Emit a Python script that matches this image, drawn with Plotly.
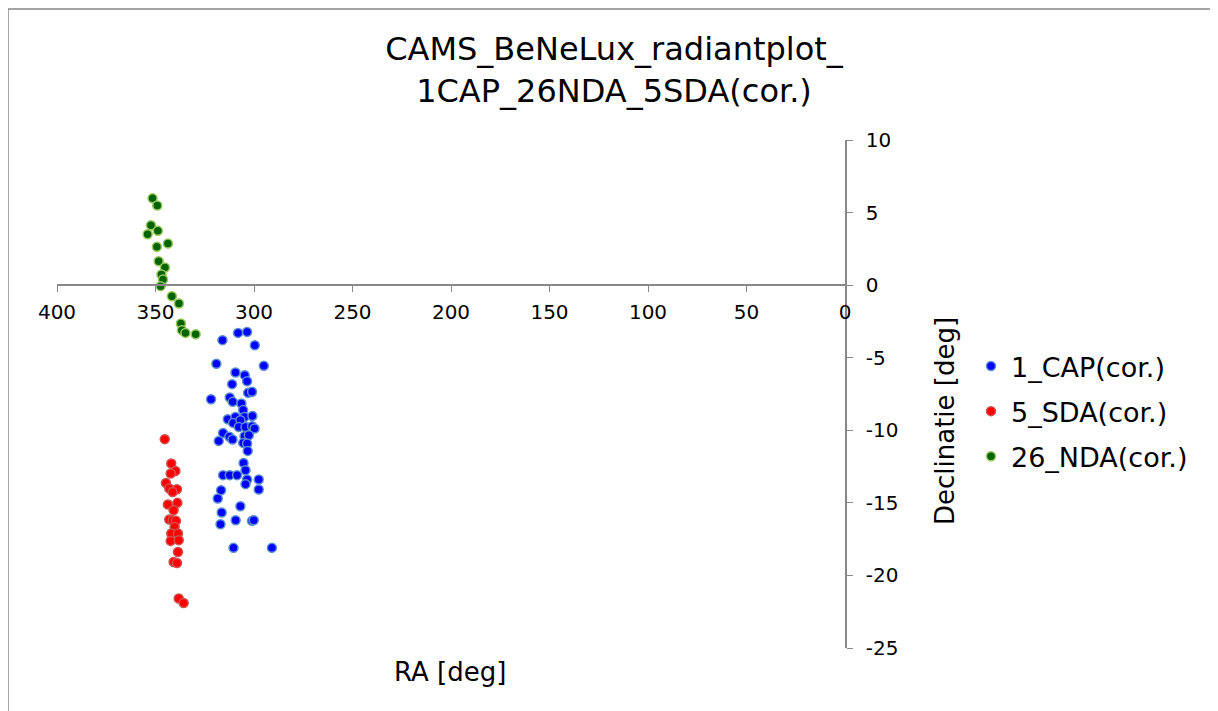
import plotly.graph_objects as go

# ---- Data (RA [deg], Declination [deg]) ----
cap_ra = [308.1, 303.5, 316.0, 299.6, 319.1, 295.0, 309.4, 304.7, 311.1, 303.5,
          321.8, 303.0, 301.0, 312.3, 310.8, 306.4, 305.5, 313.3, 309.4, 304.8,
          300.8, 310.6, 306.9, 307.7, 304.3, 301.0, 299.7, 315.7, 312.5, 304.8,
          302.6, 310.9, 317.9, 305.5, 303.5, 303.2, 305.3, 304.3, 315.7, 312.3,
          308.6, 303.5, 297.6, 304.3, 316.7, 297.6, 318.4, 306.9, 316.4, 309.3,
          317.0, 301.0, 300.1, 310.4, 290.9]
cap_dec = [-3.29, -3.22, -3.79, -4.14, -5.42, -5.56, -6.02, -6.20, -6.82, -6.62,
           -7.86, -7.42, -7.35, -7.74, -8.04, -8.15, -8.61, -9.24, -9.08, -9.08,
           -9.01, -9.49, -9.30, -9.77, -9.77, -9.72, -9.88, -10.18, -10.45, -10.41,
           -10.34, -10.63, -10.73, -10.87, -10.91, -11.42, -12.25, -12.75, -13.09, -13.09,
           -13.09, -13.39, -13.39, -13.71, -14.13, -14.08, -14.70, -15.23, -15.67, -16.20,
           -16.47, -16.24, -16.20, -18.10, -18.10]

sda_ra = [345.3, 342.0, 339.9, 342.3, 344.7, 343.0, 339.1, 341.3, 343.7, 338.9,
          340.8, 343.0, 341.3, 339.6, 340.3, 342.0, 338.6, 342.3, 338.2, 338.6,
          340.8, 339.1, 338.2, 335.7]
sda_dec = [-10.61, -12.29, -12.80, -12.98, -13.63, -14.01, -14.06, -14.25, -15.11, -15.00,
           -15.51, -16.15, -16.20, -16.24, -16.66, -17.11, -17.11, -17.62, -17.57, -18.38,
           -19.07, -19.14, -21.59, -21.90]

nda_ra = [351.5, 349.1, 352.3, 354.0, 348.8, 349.3, 343.7, 348.4, 345.2, 347.0,
          346.2, 347.4, 341.7, 338.1, 337.1, 336.6, 334.8, 329.6]
nda_dec = [5.98, 5.49, 4.13, 3.51, 3.74, 2.64, 2.87, 1.65, 1.22, 0.74,
           0.39, -0.07, -0.76, -1.26, -2.64, -3.10, -3.29, -3.38]

series_names = ["1_CAP(cor.)", "5_SDA(cor.)", "26_NDA(cor.)"]
x_ticks = [400, 350, 300, 250, 200, 150, 100, 50, 0]
y_ticks = [10, 5, 0, -5, -10, -15, -20, -25]

FONT = "DejaVu Sans"
OFF = 8                      # page body margin in the browser
W, H = 1218 - OFF, 711 - OFF
# plot area in screenshot pixels
PX_L, PX_R, PX_T, PX_B = 57, 845, 140, 648
L, T = PX_L - OFF, PX_T - OFF
PW, PH = PX_R - PX_L, PX_B - PX_T
R, B = W - L - PW, H - T - PH


def px(sx):   # screenshot x -> paper x
    return (sx - PX_L) / PW


def py(sy):   # screenshot y -> paper y
    return (PX_B - sy) / PH


fig = go.Figure()
styles = [("#0000FF", "#5B8FD0"), ("#FF0000", "#D05050"), ("#006400", "#9BC85A")]
data = [(cap_ra, cap_dec), (sda_ra, sda_dec), (nda_ra, nda_dec)]
for i, ((xs, ys), name, (fill, edge)) in enumerate(zip(data, series_names, styles)):
    fig.add_trace(go.Scatter(
        x=xs, y=ys, mode="markers", name=name, legendgroup=str(i),
        marker=dict(size=9, color=fill, line=dict(color=edge, width=1.5)),
    ))

ymin, ymax = -25, 10
fig.update_layout(
    width=W, height=H,
    margin=dict(l=L, r=R, t=T, b=B, pad=0),
    paper_bgcolor="white", plot_bgcolor="white",
    font=dict(family=FONT, color="black"),
    title=dict(text="CAMS_BeNeLux_radiantplot_<br>1CAP_26NDA_5SDA(cor.)",
               x=(614 - OFF) / W, xanchor="center", y=1 - (60 - OFF) / H, yanchor="middle",
               font=dict(size=32, family=FONT, color="black")),
    xaxis=dict(range=[400, 0], tickvals=x_ticks, ticktext=[str(v) for v in x_ticks],
               showgrid=False, zeroline=False, showline=True, linecolor="#888888",
               linewidth=1.5, ticks="outside", ticklen=6, tickcolor="#888888",
               ticklabelstandoff=3,
               tickfont=dict(size=20, family=FONT, color="black"),
               anchor="free", position=(0 - ymin) / (ymax - ymin)),
    yaxis=dict(range=[ymin, ymax], tickvals=y_ticks, ticktext=[str(v) for v in y_ticks],
               side="right", showgrid=False, zeroline=False, showline=True,
               linecolor="#888888", linewidth=1.5, ticks="outside", ticklen=6,
               tickcolor="#888888", ticklabelstandoff=9,
               tickfont=dict(size=20, family=FONT, color="black")),
    legend=dict(x=px(971), xanchor="left",
                y=py(342), yanchor="top",
                font=dict(size=27, family=FONT, color="black"),
                tracegroupgap=7, itemsizing="trace", bgcolor="rgba(0,0,0,0)"),
    showlegend=True,
)

fig.add_annotation(text="RA [deg]", xref="paper", yref="paper",
                   x=px(450), y=py(672), xanchor="center", yanchor="middle",
                   showarrow=False, font=dict(size=26, family=FONT, color="black"))
fig.add_annotation(text="Declinatie [deg]", xref="paper", yref="paper",
                   x=px(945), y=py(421), xanchor="center", yanchor="middle",
                   textangle=-90,
                   showarrow=False, font=dict(size=26, family=FONT, color="black"))

# outer chart border (left and top visible in reference)
fig.add_shape(type="rect", xref="paper", yref="paper",
              x0=px(8), x1=px(1260), y0=py(760), y1=py(9),
              line=dict(color="#888888", width=1.5), fillcolor="rgba(0,0,0,0)",
              layer="below")

fig.write_html("out.html")
